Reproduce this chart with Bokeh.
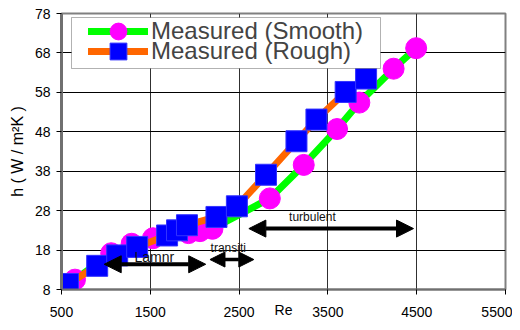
from bokeh.plotting import figure
from bokeh.models import (Legend, LegendItem, Arrow, NormalHead, FixedTicker,
                          BoxAnnotation, ColumnDataSource, Range1d)
from bokeh.core.properties import value
from bokeh.embed import file_html
from bokeh.resources import INLINE

FONT = "Liberation Sans"

# ---- data ----
re_smooth = [652, 1060, 1290, 1530, 1930, 2060, 2200, 2846, 3228, 3603, 3854, 4240, 4494]
h_smooth = [10.5, 17.2, 19.6, 21.0, 22.3, 22.8, 23.4, 31.1, 39.6, 48.7, 55.4, 64.0, 69.2]

re_rough = [573, 902, 1127, 1352, 1689, 1801, 1913, 2245, 2475, 2803, 3146, 3371, 3700, 3930]
h_rough = [9.4, 14.0, 16.65, 18.8, 21.7, 23.0, 24.3, 26.4, 29.1, 37.1, 45.6, 51.1, 58.1, 61.5]

x_ticks = [500, 1500, 2500, 3500, 4500, 5500]
y_ticks = [8, 18, 28, 38, 48, 58, 68, 78]

regime_names = ["Lamnr", "transiti", "turbulent"]
regime_re_start = [981, 2172, 2610]
regime_re_end = [2124, 2666, 4464]
regime_h = [14.4, 15.6, 23.45]
regime_label_re = [1545, 2378, 3326]
regime_label_h = [16.3, 18.6, 26.5]

series_names = ["Measured (Smooth)", "Measured (Rough)"]
x_title = "Re"
y_title = "h ( W / m\u00b2K )"

# ---- styles ----
label_sizes = ["14px", "12px", "12px"]
head_sizes = [17, 15, 17]
shaft_widths = [4, 3.5, 4]

p = figure(width=512, height=322,
           x_range=Range1d(500, 5500), y_range=Range1d(8, 78),
           output_backend="svg", toolbar_location=None,
           min_border_left=61, min_border_right=7,
           min_border_top=13, min_border_bottom=33)

p.background_fill_color = "white"
p.border_fill_color = "white"
p.outline_line_color = "#808080"
p.outline_line_width = 2

# grid
p.xgrid.grid_line_color = "#303030"
p.ygrid.grid_line_color = "black"
p.xgrid.grid_line_width = 1
p.ygrid.grid_line_width = 1
p.xgrid.ticker = FixedTicker(ticks=x_ticks)
p.ygrid.ticker = FixedTicker(ticks=y_ticks)

# axes
p.xaxis.ticker = FixedTicker(ticks=x_ticks)
p.yaxis.ticker = FixedTicker(ticks=y_ticks)
for ax in (p.xaxis[0], p.yaxis[0]):
    ax.major_label_text_font = FONT
    ax.major_label_text_font_size = "14px"
    ax.major_label_text_color = "black"
    ax.axis_line_color = "#707070"
    ax.major_tick_line_color = "black"
    ax.major_tick_out = 5
    ax.major_tick_in = 0
    ax.minor_tick_line_color = None
    ax.axis_label_text_font = FONT
    ax.axis_label_text_font_style = "normal"
    ax.axis_label_text_color = "black"
p.yaxis.axis_line_width = 3
p.xaxis.axis_line_width = 2
p.xaxis.major_label_standoff = 12
p.yaxis.major_label_standoff = 6
p.xaxis.axis_label = x_title
p.xaxis.axis_label_text_font_size = "14px"
p.xaxis.axis_label_standoff = -18
p.yaxis.axis_label = y_title
p.yaxis.axis_label_text_font_size = "16px"
p.yaxis.axis_label_standoff = 6

# series
ls = p.line(re_smooth, h_smooth, line_color="#00FF00", line_width=7, line_cap="round", line_join="round")
ss = p.scatter(re_smooth, h_smooth, marker="circle", size=21, fill_color="#FF00FF", line_color="#FF00FF")
lr = p.line(re_rough, h_rough, line_color="#FF6600", line_width=7, line_cap="round", line_join="round")
sr = p.scatter(re_rough, h_rough, marker="square", size=21, fill_color="#0000FF", line_color="#3333FF")

# regime arrows
for i in range(len(regime_names)):
    hs = head_sizes[i]
    p.add_layout(Arrow(
        start=NormalHead(size=hs, fill_color="black", line_color="black"),
        end=NormalHead(size=hs, fill_color="black", line_color="black"),
        x_start=regime_re_start[i], y_start=regime_h[i],
        x_end=regime_re_end[i], y_end=regime_h[i],
        line_width=shaft_widths[i], line_color="black"))

src = ColumnDataSource(dict(x=regime_label_re, y=regime_label_h, t=regime_names, fs=label_sizes))
p.text(x="x", y="y", text="t", source=src, text_font=value(FONT), text_font_size="fs",
       text_align="center", text_baseline="alphabetic", text_color="#111111")

# legend box (screen units relative to frame)
p.add_layout(BoxAnnotation(left=10, right=319, top=272, bottom=221,
                           left_units="screen", right_units="screen",
                           top_units="screen", bottom_units="screen",
                           fill_color="white", fill_alpha=1.0,
                           line_color="black", line_width=1))

legend_rows = [(series_names[0], [ls, ss], 237), (series_names[1], [lr, sr], 217)]
for name, rends, ypos in legend_rows:
    lg = Legend(items=[LegendItem(label=name, renderers=rends)],
                location=(27, ypos), glyph_width=60, glyph_height=42, spacing=0,
                padding=0, margin=0, label_standoff=3,
                label_text_font=FONT, label_text_font_size="24px",
                border_line_alpha=0, background_fill_alpha=0)
    p.add_layout(lg)

open("out.html", "w").write(file_html(p, INLINE))
